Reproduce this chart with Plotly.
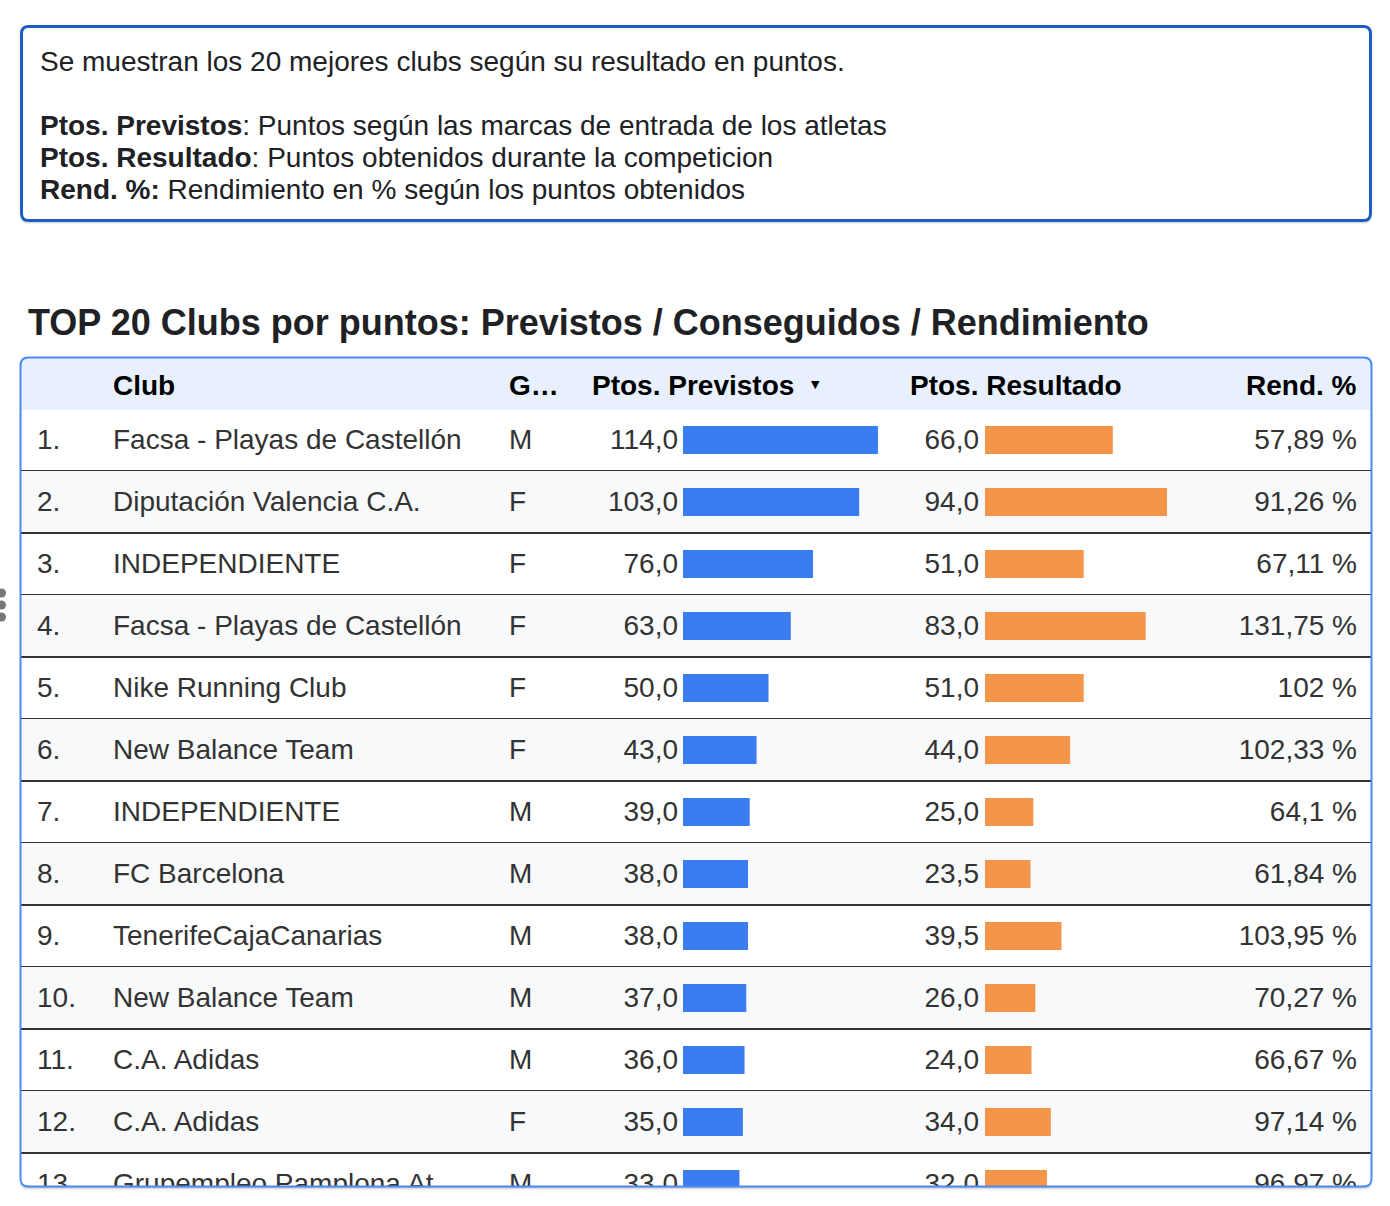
import plotly.graph_objects as go

# table data (rows visible in the reference)
ranks = [1, 2, 3, 4, 5, 6, 7, 8, 9, 10, 11, 12, 13]
clubs = ["Facsa - Playas de Castellón", "Diputación Valencia C.A.", "INDEPENDIENTE",
         "Facsa - Playas de Castellón", "Nike Running Club", "New Balance Team",
         "INDEPENDIENTE", "FC Barcelona", "TenerifeCajaCanarias", "New Balance Team",
         "C.A. Adidas", "C.A. Adidas", "Grupempleo Pamplona At."]
generos = ["M", "F", "F", "F", "F", "F", "M", "M", "M", "M", "M", "F", "M"]
previstos = [114.0, 103.0, 76.0, 63.0, 50.0, 43.0, 39.0, 38.0, 38.0, 37.0, 36.0, 35.0, 33.0]
resultado = [66.0, 94.0, 51.0, 83.0, 51.0, 44.0, 25.0, 23.5, 39.5, 26.0, 24.0, 34.0, 32.0]
rendimiento = [57.89, 91.26, 67.11, 131.75, 102.0, 102.33, 64.1, 61.84, 103.95, 70.27,
               66.67, 97.14, 96.97]

headers = ["Club", "G…", "Ptos. Previstos", "Ptos. Resultado", "Rend. %"]
info_lines = [
    "Se muestran los 20 mejores clubs según su resultado en puntos.",
    "<b>Ptos. Previstos</b>: Puntos según las marcas de entrada de los atletas",
    "<b>Ptos. Resultado</b>: Puntos obtenidos durante la competicion",
    "<b>Rend. %:</b> Rendimiento en % según los puntos obtenidos",
]
title = "TOP 20 Clubs por puntos: Previstos / Conseguidos / Rendimiento"

W, H = 1390, 1206
FONT = "Liberation Sans, Arial, Helvetica, sans-serif"
BLUE = "#3b7cf0"
ORANGE = "#f4964a"
TXT = "#333333"


def X(p):
    return p / W


def Y(p):
    return 1 - p / H


def rrect(x0, y0, x1, y1, rt, rb):
    pts = [
        f"M {X(x0 + rt)},{Y(y0)}", f"L {X(x1 - rt)},{Y(y0)}",
        f"Q {X(x1)},{Y(y0)} {X(x1)},{Y(y0 + rt)}", f"L {X(x1)},{Y(y1 - rb)}",
        f"Q {X(x1)},{Y(y1)} {X(x1 - rb)},{Y(y1)}", f"L {X(x0 + rb)},{Y(y1)}",
        f"Q {X(x0)},{Y(y1)} {X(x0)},{Y(y1 - rb)}", f"L {X(x0)},{Y(y0 + rt)}",
        f"Q {X(x0)},{Y(y0)} {X(x0 + rt)},{Y(y0)}", "Z",
    ]
    return " ".join(pts)


fmt1 = lambda v: f"{v:.1f}".replace(".", ",")
fmtp = lambda v: f"{v:.2f}".rstrip("0").rstrip(".").replace(".", ",") + " %"

# table body geometry
BODY_TOP, BODY_BOT = 410, 1187
ROW0, ROWH = 440, 62
r_top = 1 + (BODY_TOP - ROW0) / ROWH
r_bot = 1 + (BODY_BOT - ROW0) / ROWH
txt_shift = 2 / ROWH  # text sits a touch lower than the bars

fig = go.Figure()

# bars
fig.add_trace(go.Bar(x=previstos, y=ranks, orientation="h", width=0.45,
                     marker=dict(color=BLUE, line=dict(width=0)),
                     xaxis="x2", yaxis="y", hoverinfo="skip"))
fig.add_trace(go.Bar(x=resultado, y=ranks, orientation="h", width=0.45,
                     marker=dict(color=ORANGE, line=dict(width=0)),
                     xaxis="x3", yaxis="y", hoverinfo="skip"))


def col(xpos, texts, pos):
    fig.add_trace(go.Scatter(x=[xpos] * len(texts), y=ranks, text=texts, mode="text",
                             textposition=pos, cliponaxis=True, hoverinfo="skip",
                             textfont=dict(family=FONT, size=28, color=TXT),
                             xaxis="x", yaxis="y2"))


col(37, [f"{r}." for r in ranks], "middle right")
col(113, clubs, "middle right")
col(509, generos, "middle right")
col(678, [fmt1(v) for v in previstos], "middle left")
col(979, [fmt1(v) for v in resultado], "middle left")
col(1357, [fmtp(v) for v in rendimiento], "middle left")

shapes = []
# shadows
for off, a in [(3, 0.06), (2, 0.08), (1, 0.1)]:
    shapes.append(dict(type="path", xref="paper", yref="paper", layer="below",
                       path=rrect(21, 27 + off, 1371, 221 + off, 7, 7),
                       fillcolor=f"rgba(0,0,0,{a})", line=dict(width=0)))
    shapes.append(dict(type="path", xref="paper", yref="paper", layer="below",
                       path=rrect(20, 358 + off, 1372, 1187 + off, 8, 8),
                       fillcolor=f"rgba(0,0,0,{a})", line=dict(width=0)))
# info box
shapes.append(dict(type="path", xref="paper", yref="paper", layer="below",
                   path=rrect(21.5, 26.5, 1370.5, 220.5, 7, 7),
                   fillcolor="white", line=dict(color="#1a5ec2", width=3)))
# table box background and header
shapes.append(dict(type="path", xref="paper", yref="paper", layer="below",
                   path=rrect(20, 357, 1372, 1187, 8, 8),
                   fillcolor="white", line=dict(width=0)))
shapes.append(dict(type="path", xref="paper", yref="paper", layer="below",
                   path=rrect(20, 357, 1372, 410, 8, 0),
                   fillcolor="#e8f0fe", line=dict(width=0)))
# row stripes and separators
for r in ranks:
    if r % 2 == 0:
        shapes.append(dict(type="rect", xref="x", yref="y", layer="below",
                           x0=20, x1=1372, y0=r - 0.5, y1=r + 0.5,
                           fillcolor="#f8f9fa", line=dict(width=0)))
    shapes.append(dict(type="line", xref="x", yref="y", layer="below",
                       x0=20, x1=1372, y0=r + 0.5, y1=r + 0.5,
                       line=dict(color="#333333", width=2)))
# table border
shapes.append(dict(type="path", xref="paper", yref="paper", layer="above",
                   path=rrect(20.5, 357.5, 1371.5, 1186.5, 8, 8),
                   fillcolor="rgba(0,0,0,0)", line=dict(color="#4a8af4", width=2)))
# drag handle dots
for cy in [593, 605, 617]:
    shapes.append(dict(type="circle", xref="paper", yref="paper", layer="above",
                       x0=X(-3), x1=X(6), y0=Y(cy - 4.5), y1=Y(cy + 4.5),
                       fillcolor="#777777", line=dict(width=0)))

annotations = []
for i, line in enumerate(info_lines):
    yy = 61 if i == 0 else 125 + 32 * (i - 1)
    annotations.append(dict(x=X(38), y=Y(yy), xref="paper", yref="paper", text=line,
                            showarrow=False, xanchor="left", yanchor="middle",
                            font=dict(family=FONT, size=28, color="#202124")))
annotations.append(dict(x=X(26), y=Y(322), xref="paper", yref="paper", text=f"<b>{title}</b>",
                        showarrow=False, xanchor="left", yanchor="middle",
                        font=dict(family=FONT, size=36, color="#202124")))
hdr_pos = [(111, "left"), (507, "left"), (590, "left"), (908, "left"), (1359, "right")]
for (hx, anc), h in zip(hdr_pos, headers):
    annotations.append(dict(x=X(hx), y=Y(385), xref="paper", yref="paper", text=f"<b>{h}</b>",
                            showarrow=False, xanchor=anc, yanchor="middle",
                            font=dict(family=FONT, size=28, color="#000000")))
annotations.append(dict(x=X(815), y=Y(384), xref="paper", yref="paper", text="▼",
                        showarrow=False, xanchor="center", yanchor="middle",
                        font=dict(family="DejaVu Sans", size=11, color="#000000")))

body_dom = [Y(BODY_BOT), Y(BODY_TOP)]
fig.update_layout(
    width=W, height=H, margin=dict(l=0, r=0, t=0, b=0),
    paper_bgcolor="white", plot_bgcolor="rgba(0,0,0,0)",
    showlegend=False, barmode="overlay",
    shapes=shapes, annotations=annotations,
    xaxis=dict(domain=[0, 1], range=[0, W], visible=False, fixedrange=True),
    xaxis2=dict(domain=[X(683), X(878)], range=[0, max(previstos)], anchor="y",
                visible=False, fixedrange=True),
    xaxis3=dict(domain=[X(985), X(1167)], range=[0, max(resultado)], anchor="y",
                visible=False, fixedrange=True),
    yaxis=dict(domain=body_dom, range=[r_bot, r_top], anchor="x", visible=False,
               fixedrange=True),
    yaxis2=dict(range=[r_bot - txt_shift, r_top - txt_shift], overlaying="y",
                anchor="x", visible=False, fixedrange=True),
)

# the page body has a default margin; remove it so the figure sits at 0,0
fig.write_html("out.html", post_script="document.body.style.margin='0';",
               config={"displayModeBar": False})
